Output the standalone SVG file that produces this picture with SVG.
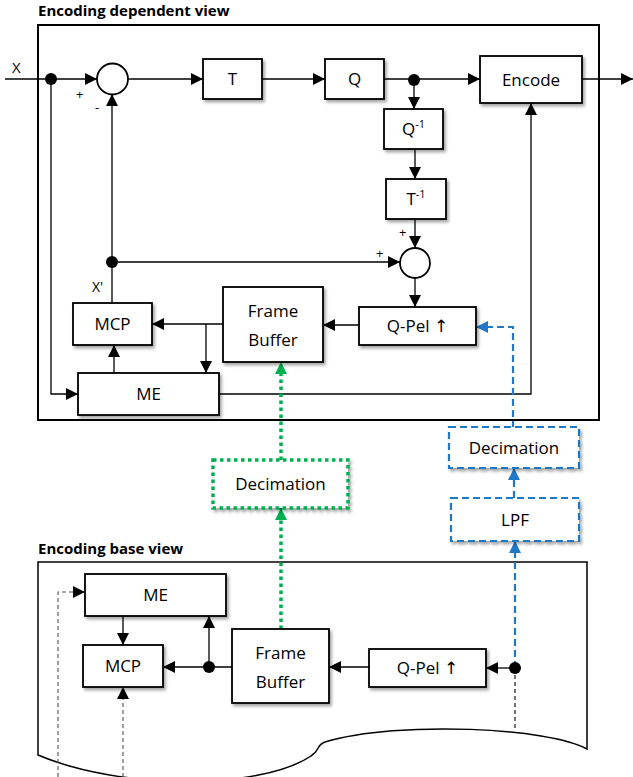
<svg xmlns="http://www.w3.org/2000/svg" width="633" height="777" viewBox="0 0 633 777">
<defs>
<style>
.box{fill:#fff;stroke:#000;stroke-width:1.8;filter:url(#sh)}
.frame{fill:none;stroke:#000;stroke-width:2}
.t{font-family:"Open Sans","Liberation Sans",sans-serif;font-size:17px;fill:#000;text-anchor:middle}
.arr{font-family:"DejaVu Sans",sans-serif;font-size:17px}
.title{font-family:"Open Sans","Liberation Sans",sans-serif;font-size:15px;font-weight:bold;fill:#000}
.small{font-family:"Open Sans","Liberation Sans",sans-serif;font-size:13px;fill:#000}
.ca{fill:none;stroke:#000;stroke-width:1.3;marker-end:url(#ab)}
.gd{fill:none;stroke:#555;stroke-width:1.1;stroke-dasharray:4,3;marker-end:url(#ab)}
.bl{fill:none;stroke:#1F78C8;stroke-width:2.2;stroke-dasharray:7,4;marker-end:url(#abl)}
.gr{fill:none;stroke:#00B050;stroke-width:3.5;stroke-dasharray:3.5,3.5;marker-end:url(#agr)}
.dot{fill:#000}
</style>
<filter id="sh" x="-10%" y="-10%" width="130%" height="140%">
<feDropShadow dx="2" dy="2.5" stdDeviation="1.5" flood-color="#000" flood-opacity="0.35"/>
</filter>
<marker id="ab" markerUnits="userSpaceOnUse" markerWidth="12" markerHeight="12" viewBox="0 0 12 12" refX="12" refY="6" orient="auto"><path d="M0,0 L12,6 L0,12 z" fill="#000"/></marker>
<marker id="abl" markerUnits="userSpaceOnUse" markerWidth="12" markerHeight="12" viewBox="0 0 12 12" refX="12" refY="6" orient="auto"><path d="M0,0 L12,6 L0,12 z" fill="#1F78C8"/></marker>
<marker id="agr" markerUnits="userSpaceOnUse" markerWidth="12" markerHeight="12" viewBox="0 0 12 12" refX="12" refY="6" orient="auto"><path d="M0,0 L12,6 L0,12 z" fill="#00B050"/></marker>
</defs>
<rect width="633" height="777" fill="#fff"/>

<!-- frames -->
<g id="dependent-view">
<text class="title" x="38" y="16">Encoding dependent view</text>
<rect class="frame" x="38" y="25" width="561" height="395"/>
</g>
<g id="base-view">
<text class="title" x="38" y="554">Encoding base view</text>
<path d="M38,562 H587 V749 C550,728 400,720 325,742 C316,745 320,751 311,756 C260,790 120,790 38,755 Z" fill="none" stroke="#000" stroke-width="1.5"/>
</g>

<!-- connectors -->
<g id="connectors">
<path class="ca" d="M5,79 H97"/>
<path class="ca" d="M128,79 H203"/>
<path class="ca" d="M262,79 H325"/>
<path class="ca" d="M384,79 H480"/>
<path class="ca" d="M582,79 H633"/>
<path class="ca" d="M414,80 V109"/>
<path class="ca" d="M415,149 V179"/>
<path class="ca" d="M415,219 V248"/>
<path class="ca" d="M415,278 V307"/>
<path class="ca" d="M359,325 H323"/>
<path class="ca" d="M223,324 H152"/>
<path class="ca" d="M206,324 V373"/>
<path class="ca" d="M114,373 V345"/>
<path class="ca" d="M51,79 V394 H78"/>
<path class="ca" d="M219,394 H531 V103"/>
<path class="ca" d="M112,303 V94"/>
<path class="ca" d="M112,262 H400"/>
<circle class="dot" cx="51" cy="79" r="6"/>
<circle class="dot" cx="414" cy="80" r="6"/>
<circle class="dot" cx="112" cy="262" r="6"/>

<path class="bl" d="M513,428 V327 H476"/>
<path class="bl" d="M514,498 V468"/>
<path class="bl" d="M515,668 V541"/>
<path class="gr" d="M281,629 V508"/>
<path class="gr" d="M281,460 V362"/>

<path class="ca" d="M369,667 H329"/>
<path class="ca" d="M515,668 H486"/>
<path class="ca" d="M232,667 H163"/>
<path class="ca" d="M209,667 V616"/>
<path class="ca" d="M123,616 V645"/>
<path class="gd" d="M123,777 V687"/>
<path class="gd" d="M58,777 V592 H85"/>
<path d="M515,668 V730" fill="none" stroke="#000" stroke-width="1.1" stroke-dasharray="4,3"/>
<circle class="dot" cx="209" cy="667" r="6"/>
<circle class="dot" cx="515" cy="668" r="6"/>

<text class="small" x="12" y="73" style="font-size:15px">X</text>
<text class="small" x="76" y="99">+</text>
<text class="small" x="95" y="112">-</text>
<text class="small" x="92" y="292" style="font-size:14px">X'</text>
<text class="small" x="399" y="237">+</text>
<text class="small" x="376" y="258">+</text>
</g>

<!-- dependent view nodes -->
<g id="sum1"><circle cx="112.5" cy="79" r="15.5" fill="#fff" stroke="#000" stroke-width="1.8"/></g>
<g id="sum2"><circle cx="415" cy="263" r="15" fill="#fff" stroke="#000" stroke-width="1.8"/></g>
<g id="T"><rect class="box" x="203" y="59" width="59" height="40"/><text class="t" x="232.5" y="85">T</text></g>
<g id="Q"><rect class="box" x="325" y="59" width="59" height="40"/><text class="t" x="354.5" y="85">Q</text></g>
<g id="Encode"><rect class="box" x="480" y="56" width="102" height="47"/><text class="t" x="531" y="86">Encode</text></g>
<g id="Qinv"><rect class="box" x="384" y="109" width="59" height="40"/><text class="t" x="413.5" y="135">Q<tspan dy="-7" style="font-size:11px">-1</tspan></text></g>
<g id="Tinv"><rect class="box" x="386" y="179" width="60" height="40"/><text class="t" x="416" y="205">T<tspan dy="-7" style="font-size:11px">-1</tspan></text></g>
<g id="QPel-dep"><rect class="box" x="359" y="307" width="117" height="38"/><text class="t" x="417.5" y="332">Q-Pel <tspan class="arr">↑</tspan></text></g>
<g id="FrameBuffer-dep"><rect class="box" x="223" y="287" width="100" height="75"/><text class="t" x="273" y="317">Frame</text><text class="t" x="273" y="346">Buffer</text></g>
<g id="MCP-dep"><rect class="box" x="73" y="303" width="79" height="42"/><text class="t" x="112.5" y="330">MCP</text></g>
<g id="ME-dep"><rect class="box" x="78" y="373" width="141" height="42"/><text class="t" x="148.5" y="400">ME</text></g>

<!-- inter-view nodes -->
<g id="Decimation-green"><rect x="213" y="460" width="135" height="48" fill="#fff" stroke="#00B050" stroke-width="3.5" stroke-dasharray="3.5,3.5" filter="url(#sh)"/><text class="t" x="280.5" y="490">Decimation</text></g>
<g id="Decimation-blue"><rect x="449" y="427" width="130" height="41" fill="#fff" stroke="#1F78C8" stroke-width="2.2" stroke-dasharray="7,4" filter="url(#sh)"/><text class="t" x="514" y="454">Decimation</text></g>
<g id="LPF"><rect x="451" y="498" width="128" height="43" fill="#fff" stroke="#1F78C8" stroke-width="2.2" stroke-dasharray="7,4" filter="url(#sh)"/><text class="t" x="515" y="526">LPF</text></g>

<!-- base view nodes -->
<g id="ME-base"><rect class="box" x="85" y="574" width="141" height="42"/><text class="t" x="155.5" y="601">ME</text></g>
<g id="MCP-base"><rect class="box" x="83" y="645" width="80" height="42"/><text class="t" x="123" y="672">MCP</text></g>
<g id="FrameBuffer-base"><rect class="box" x="232" y="629" width="97" height="74"/><text class="t" x="280.5" y="659">Frame</text><text class="t" x="280.5" y="688">Buffer</text></g>
<g id="QPel-base"><rect class="box" x="369" y="649" width="117" height="38"/><text class="t" x="427.5" y="674">Q-Pel <tspan class="arr">↑</tspan></text></g>
</svg>
